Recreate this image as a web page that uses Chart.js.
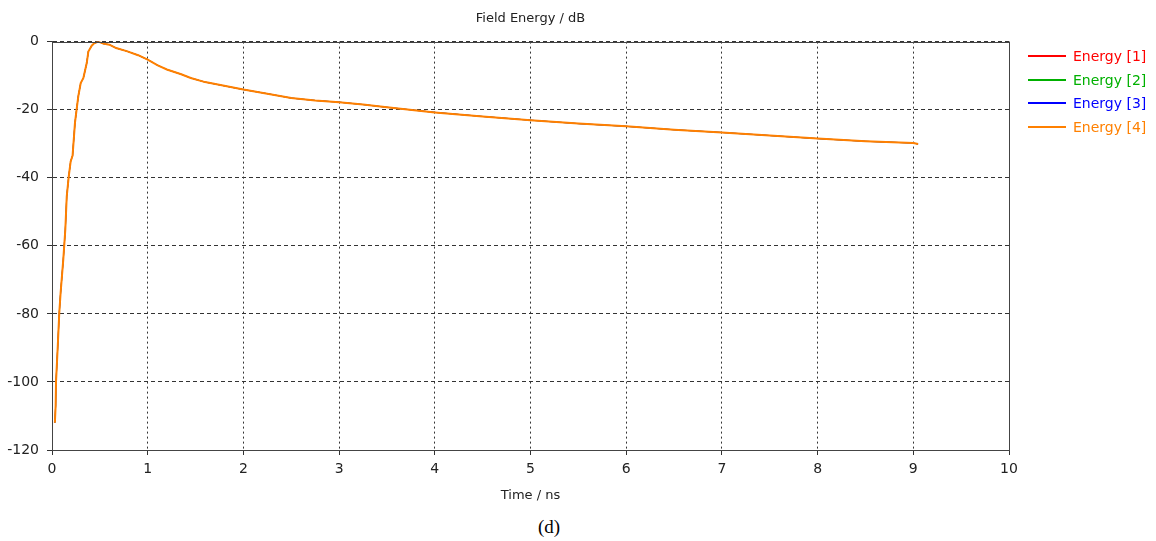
<!DOCTYPE html>
<html>
<head>
<meta charset="utf-8">
<script src="https://cdn.jsdelivr.net/npm/chart.js@4.4.1/dist/chart.umd.min.js"></script>
<style>
  html, body { margin: 0; padding: 0; background: #fff; }
  #wrap { position: relative; width: 1156px; height: 541px; overflow: hidden; }
  #chartBox { position: absolute; left: 0; top: 0; width: 1156px; height: 510px; }
  #legend { position: absolute; left: 1028px; top: 44px; font-family: "DejaVu Sans", Verdana, sans-serif; font-size: 14px; }
  .row { position: relative; height: 23.7px; display: flex; align-items: center; }
  .swatch { width: 38px; height: 2px; margin-right: 7px; }
  #caption { position: absolute; left: 0; width: 1098px; top: 516px; text-align: center; font-family: "Liberation Serif", "Times New Roman", serif; font-size: 19px; color: #000; }
</style>
</head>
<body>
<div id="wrap">
  <div id="chartBox"><canvas id="c"></canvas></div>
  <div id="legend"></div>
  <div id="caption">(d)</div>
</div>
<script>
// ---- data ----
const timeNs = [0.03, 0.038, 0.042, 0.06, 0.076, 0.09, 0.118, 0.139, 0.154, 0.175, 0.195, 0.215, 0.24, 0.257, 0.275, 0.30, 0.328, 0.363, 0.38, 0.415, 0.44, 0.485, 0.535, 0.60, 0.67, 0.78, 0.90, 1.0, 1.1, 1.2, 1.35, 1.45, 1.6, 1.8, 2.0, 2.25, 2.5, 2.75, 3.0, 3.25, 3.5, 4.0, 4.5, 5.0, 5.5, 6.0, 6.5, 7.0, 7.5, 8.0, 8.5, 9.0, 9.05];
const energyDb = [-112, -107, -100, -89.6, -79.7, -73.8, -64, -55.3, -45.5, -39.6, -35.2, -33.5, -23.9, -20, -16, -12.2, -10.7, -6.3, -2.9, -1.2, -0.5, 0, -0.6, -0.9, -1.9, -2.8, -4, -5.3, -6.9, -8.2, -9.6, -10.7, -11.9, -13, -14.1, -15.3, -16.6, -17.3, -17.8, -18.5, -19.3, -20.8, -22, -23.1, -24.1, -24.9, -25.9, -26.7, -27.6, -28.5, -29.3, -29.8, -30.1];
const seriesNames = ["Energy [1]", "Energy [2]", "Energy [3]", "Energy [4]"];
const seriesColors = ["#ff0000", "#00b000", "#0000ff", "#ff8000"];
const xTicks = [0, 1, 2, 3, 4, 5, 6, 7, 8, 9, 10];
const yTicks = [0, -20, -40, -60, -80, -100, -120];
const chartTitle = "Field Energy / dB";
const xTitle = "Time / ns";

const points = timeNs.map((t, i) => ({ x: t, y: energyDb[i] }));
const FONT = '"DejaVu Sans", Verdana, sans-serif';
const last = seriesNames.length - 1;

// later series drawn on top (lower order = drawn later); hidden ones thinner so they stay under the orange
const datasets = seriesNames.map((name, i) => ({
  label: name,
  data: points,
  order: seriesNames.length - i,
  borderColor: seriesColors[i],
  backgroundColor: seriesColors[i],
  borderWidth: i === last ? 2 : 0.8,
  pointRadius: 0,
  tension: 0,
  fill: false
}));

const frame = {
  id: 'frame',
  afterDatasetsDraw(chart) {
    const { ctx, chartArea: a } = chart;
    ctx.save();
    ctx.strokeStyle = '#444';
    ctx.lineWidth = 1;
    ctx.strokeRect(Math.round(a.left) + 0.5, Math.round(a.top) + 0.5, Math.round(a.right - a.left), Math.round(a.bottom - a.top));
    ctx.restore();
  }
};

const chart = new Chart(document.getElementById('c'), {
  type: 'line',
  data: { datasets },
  plugins: [frame],
  options: {
    responsive: true,
    maintainAspectRatio: false,
    animation: false,
    layout: { padding: { left: 0, right: 147, top: 0, bottom: 0 } },
    plugins: {
      legend: { display: false },
      tooltip: { enabled: false },
      title: {
        display: true, text: chartTitle, fullSize: false,
        color: '#222', font: { family: FONT, size: 13, weight: 'normal' },
        padding: { top: 11, bottom: 15 }
      }
    },
    scales: {
      x: {
        type: 'linear', min: 0, max: 10,
        afterBuildTicks: s => { s.ticks = xTicks.map(v => ({ value: v })); },
        afterFit: s => { s.height = 60; },
        ticks: { color: '#222', font: { family: FONT, size: 14 }, padding: 6, maxRotation: 0 },
        grid: { color: '#333', lineWidth: 1, tickLength: 5, drawOnChartArea: true },
        border: { display: true, color: '#444', width: 1, dash: [2, 3] },
        title: { display: true, text: xTitle, color: '#222', font: { family: FONT, size: 13 }, padding: { top: 4, bottom: 7 } }
      },
      y: {
        type: 'linear', min: -120, max: 0,
        afterBuildTicks: s => { s.ticks = yTicks.map(v => ({ value: v })); },
        afterFit: s => { s.width = 52; },
        ticks: { color: '#222', font: { family: FONT, size: 14 }, padding: 8 },
        grid: { color: '#333', lineWidth: 1, tickLength: 5 },
        border: { display: true, color: '#444', width: 1, dash: [4, 3] }
      }
    }
  }
});

// HTML legend built from the datasets
const leg = document.getElementById('legend');
chart.data.datasets.forEach(ds => {
  const row = document.createElement('div');
  row.className = 'row';
  const sw = document.createElement('div');
  sw.className = 'swatch';
  sw.style.background = ds.borderColor;
  const tx = document.createElement('span');
  tx.textContent = ds.label;
  tx.style.color = ds.borderColor;
  row.appendChild(sw); row.appendChild(tx);
  leg.appendChild(row);
});
</script>
</body>
</html>
